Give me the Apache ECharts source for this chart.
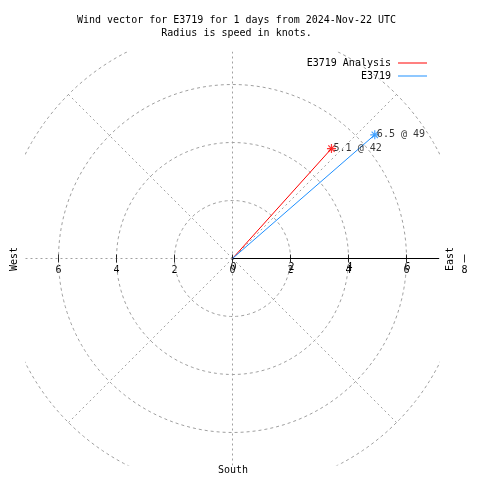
<!DOCTYPE html>
<html><head><meta charset="utf-8">
<script src="https://cdn.jsdelivr.net/npm/echarts@6/dist/echarts.min.js"></script>
<style>html,body{margin:0;padding:0;background:#fff}#c{width:480px;height:480px}</style>
</head><body><div id="c"></div>
<script>
// ---- data ----
const titleLines = ['Wind vector for E3719 for 1 days from 2024-Nov-22 UTC', 'Radius is speed in knots.'];
const seriesNames = ['E3719 Analysis', 'E3719'];
const speeds = [5.1, 6.5];        // knots
const directions = [42, 49];      // degrees clockwise from north
const ringRadii = [2, 4, 6, 8];
const spokeAngles = [0, 45, 90, 135, 180, 225, 270, 315];
const tickValues = [-6, -4, -2, 0, 2, 4, 6, 8];
const ghostTickValues = [0, 2, 4, 6];
const compassLabels = ['West', 'East', 'South'];

// ---- style ----
const colors = ['#ff0000', '#1e90ff'];
const FONT = 'DejaVu Sans Mono';
const GRIDC = '#a0a0a0';
const R = 7.12;      // plot half-range
const CX = 232.5, CY = 258.5, U = 29;

const series = [];
ringRadii.forEach(function (r) {
  const pts = [];
  for (let a = 0; a <= 360; a += 2) {
    const t = a * Math.PI / 180;
    pts.push([r * Math.cos(t), r * Math.sin(t)]);
  }
  series.push({type: 'line', xAxisIndex: 0, yAxisIndex: 0, data: pts, symbol: 'none', silent: true,
    clip: true, lineStyle: {color: GRIDC, width: 1, type: [3, 3]}, z: 1});
});
spokeAngles.forEach(function (a) {
  const t = a * Math.PI / 180;
  const L = ringRadii[ringRadii.length - 1];
  series.push({type: 'line', xAxisIndex: 0, yAxisIndex: 0, data: [[0, 0], [L * Math.cos(t), L * Math.sin(t)]],
    symbol: 'none', silent: true, clip: true, lineStyle: {color: GRIDC, width: 1, type: [2, 3]}, z: 1});
});
// east axis line
series.push({type: 'line', xAxisIndex: 0, yAxisIndex: 0, data: [[0, 0], [R, 0]], symbol: 'none', silent: true,
  lineStyle: {color: '#000', width: 1}, z: 2});
// axis ticks (crossing the axis line)
series.push({type: 'scatter', xAxisIndex: 0, yAxisIndex: 0, data: tickValues.map(function (v) { return [v, 0]; }),
  symbol: 'rect', symbolSize: [1, 8], clip: false, silent: true, itemStyle: {color: '#000'}, z: 3});

const star = 'path://M5,0 L5,10 M0,5 L10,5 M1.5,1.5 L8.5,8.5 M1.5,8.5 L8.5,1.5';
seriesNames.forEach(function (n, i) {
  const t = directions[i] * Math.PI / 180;
  const end = [speeds[i] * Math.sin(t), speeds[i] * Math.cos(t)];
  series.push({name: n, type: 'line', xAxisIndex: 0, yAxisIndex: 0, data: [[0, 0], end], symbol: 'none',
    lineStyle: {color: colors[i], width: 1}, itemStyle: {color: colors[i]}, z: 5});
  series.push({name: 'end' + i, type: 'scatter', xAxisIndex: 0, yAxisIndex: 0, data: [end], symbol: star,
    symbolSize: 9, itemStyle: {color: colors[i], borderColor: colors[i], borderWidth: 1.2}, z: 6,
    label: {show: true, position: 'right', distance: -3, color: '#000', fontFamily: FONT, fontSize: 10,
      formatter: speeds[i] + ' @ ' + directions[i]}});
});

const chart = echarts.init(document.getElementById('c'));
chart.setOption({
  animation: false,
  backgroundColor: '#fff',
  title: {text: titleLines.join('\n'), left: 231.5, top: 8.5, textAlign: 'center',
    textStyle: {fontFamily: FONT, fontSize: 10, fontWeight: 'normal', color: '#000', lineHeight: 13}},
  legend: {data: seriesNames, icon: 'rect', orient: 'vertical', align: 'right', right: 48, top: 52, itemWidth: 29, itemHeight: 1,
    itemGap: 1, textStyle: {fontFamily: FONT, fontSize: 10, color: '#000', lineHeight: 12, padding: [0, 2, 0, 0]}, selectedMode: false},
  grid: [
    {left: CX - R * U, top: CY - R * U, width: 2 * R * U, height: 2 * R * U, show: false},
    {left: CX - 8 * U, top: CY - 58, width: 16 * U, height: 58, show: false}
  ],
  xAxis: [
    {gridIndex: 0, type: 'value', min: -R, max: R, show: false},
    {gridIndex: 1, type: 'value', min: -8, max: 8, position: 'bottom', axisLine: {show: false}, splitLine: {show: false},
      axisTick: {show: false},
      axisLabel: {show: true, margin: 7, customValues: tickValues, color: '#000', fontFamily: FONT, fontSize: 10,
        formatter: function (v) { return String(Math.abs(v)); }}},
    {gridIndex: 1, type: 'value', min: -8, max: 8, position: 'bottom', axisLine: {show: false}, splitLine: {show: false},
      axisTick: {show: false},
      axisLabel: {show: true, inside: false, margin: 4, customValues: ghostTickValues, color: '#000', fontFamily: FONT, fontSize: 10,
        padding: [0, 0, 0, 2], formatter: function (v) { return String(Math.abs(v)); }}}
  ],
  yAxis: [
    {gridIndex: 0, type: 'value', min: -R, max: R, show: false},
    {gridIndex: 1, type: 'value', min: 0, max: 1, show: false}
  ],
  graphic: [
    {type: 'text', x: 14, y: 259, rotation: Math.PI / 2, style: {text: compassLabels[0], fontFamily: FONT, fontSize: 10,
      fill: '#000', align: 'center', verticalAlign: 'middle'}},
    {type: 'text', x: 450, y: 259, rotation: Math.PI / 2, style: {text: compassLabels[1], fontFamily: FONT, fontSize: 10,
      fill: '#000', align: 'center', verticalAlign: 'middle'}},
    {type: 'text', x: 233, y: 470, style: {text: compassLabels[2], fontFamily: FONT, fontSize: 10,
      fill: '#000', align: 'center', verticalAlign: 'middle'}}
  ],
  series: series
});
</script></body></html>
